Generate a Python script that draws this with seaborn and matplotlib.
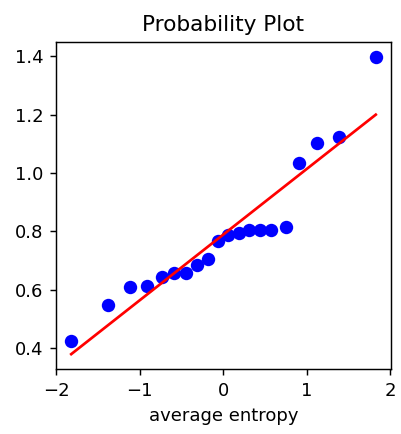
import numpy as np
import pandas as pd
import matplotlib
matplotlib.use('Agg')
import matplotlib.pyplot as plt
import seaborn as sns

# Theoretical quantiles
quantiles = [-1.82, -1.38, -1.12, -0.91, -0.73, -0.59, -0.45, -0.31, -0.18, -0.06,
             0.06, 0.19, 0.31, 0.44, 0.58, 0.75, 0.91, 1.13, 1.39, 1.83]
# Ordered values of average entropy
ordered_values = [0.424, 0.547, 0.609, 0.612, 0.643, 0.655, 0.655, 0.683, 0.703, 0.767,
                  0.787, 0.794, 0.805, 0.805, 0.805, 0.815, 1.034, 1.102, 1.124, 1.398]

data = pd.DataFrame({'osm': quantiles, 'osr': ordered_values})

# Least squares fit line, as scipy's probplot does
slope, intercept = np.polyfit(data['osm'], data['osr'], 1)
data['fit'] = slope * data['osm'] + intercept

fig = plt.figure(figsize=(401 / 130, 434 / 130), dpi=130)
ax = fig.add_axes([56 / 401, 1 - 369 / 434, 335 / 401, 327 / 434])

sns.scatterplot(ax=ax, data=data, x='osm', y='osr', color='b', s=55, linewidth=0, zorder=2)
sns.lineplot(ax=ax, data=data, x='osm', y='fit', color='r', linewidth=1.5, zorder=3)

ax.set_title('Probability Plot')
ax.set_xlabel('average entropy')
ax.set_ylabel('')
ax.set_xticks([-2, -1, 0, 1, 2])
ax.set_yticks([0.4, 0.6, 0.8, 1.0, 1.2, 1.4])

fig.savefig('out.png', dpi=130)
